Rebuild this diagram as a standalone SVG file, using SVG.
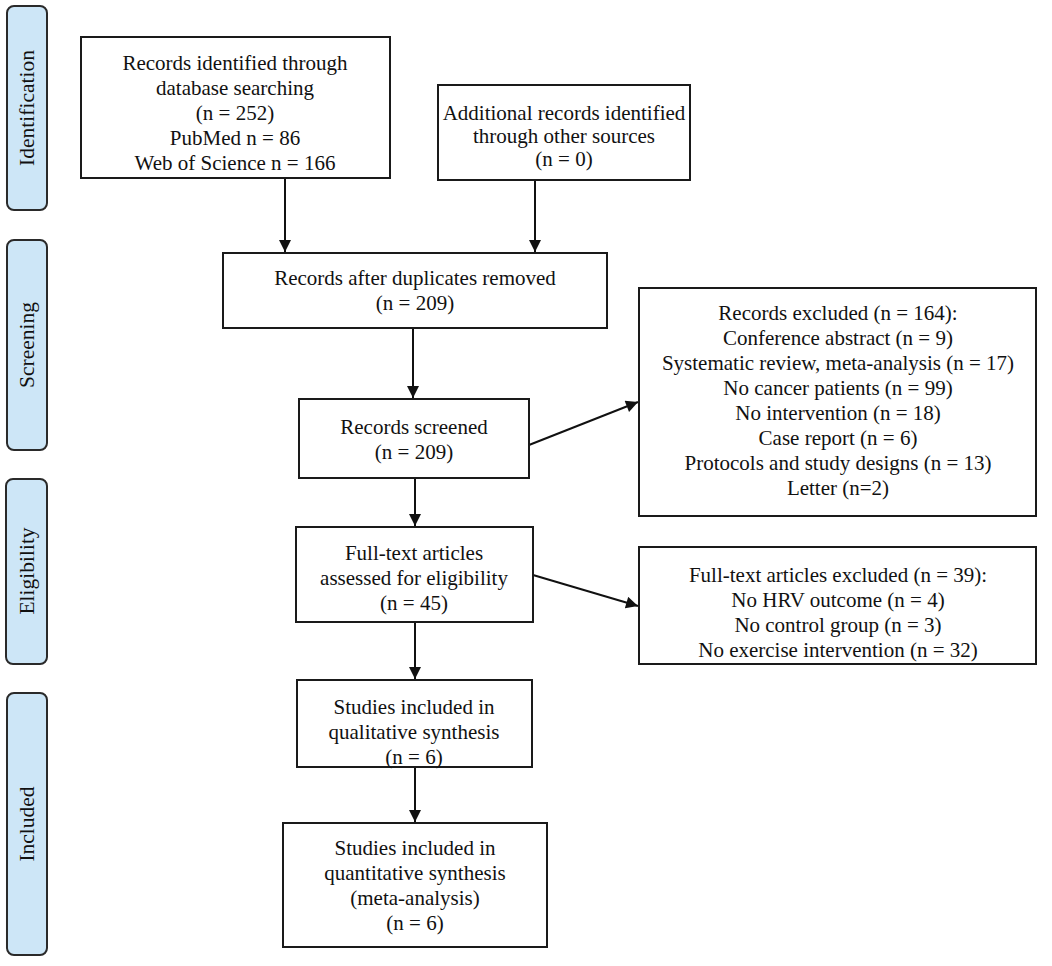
<svg xmlns="http://www.w3.org/2000/svg" width="1052" height="966" viewBox="0 0 1052 966">
<style>
.bg{fill:#ffffff}
.phase{fill:#cde6f7;stroke:#2a2a2a;stroke-width:2}
.box{fill:#ffffff;stroke:#1a1a1a;stroke-width:2}
.t{font-family:"Liberation Serif","Times New Roman",serif;font-size:21px;fill:#111;text-anchor:middle}
.pt{font-family:"Liberation Serif","Times New Roman",serif;font-size:21.5px;fill:#111;text-anchor:middle}
.c{stroke:#111;stroke-width:2;fill:none;marker-end:url(#ah)}
</style>
<defs>
<marker id="ah" viewBox="0 0 10 10" refX="10" refY="5" markerWidth="13" markerHeight="12" markerUnits="userSpaceOnUse" orient="auto">
<path d="M0,0 L10,5 L0,10 z" fill="#111"/>
</marker>
</defs>
<rect class="bg" x="0" y="0" width="1052" height="966"/>

<g id="phase-identification">
<rect class="phase" x="7" y="6" width="40" height="204" rx="7"/>
<text class="pt" transform="translate(34,108) rotate(-90)">Identification</text>
</g>
<g id="phase-screening">
<rect class="phase" x="7" y="240" width="40" height="210" rx="7"/>
<text class="pt" transform="translate(34,345) rotate(-90)">Screening</text>
</g>
<g id="phase-eligibility">
<rect class="phase" x="6" y="479" width="41" height="185" rx="7"/>
<text class="pt" transform="translate(34,571) rotate(-90)">Eligibility</text>
</g>
<g id="phase-included">
<rect class="phase" x="7" y="693" width="40" height="262" rx="7"/>
<text class="pt" transform="translate(34,824) rotate(-90)">Included</text>
</g>

<g id="connectors">
<line class="c" x1="285" y1="178" x2="285" y2="252"/>
<line class="c" x1="535" y1="180" x2="535" y2="252"/>
<line class="c" x1="413" y1="328" x2="413" y2="398"/>
<line class="c" x1="415" y1="478" x2="415" y2="526"/>
<line class="c" x1="529" y1="445" x2="638" y2="402"/>
<line class="c" x1="533" y1="575" x2="638" y2="606"/>
<line class="c" x1="415" y1="622" x2="415" y2="679"/>
<line class="c" x1="415" y1="767" x2="415" y2="822"/>
</g>

<g id="n-db">
<rect class="box" x="81" y="37" width="309" height="141"/>
<text class="t" x="235" y="70">Records identified through</text>
<text class="t" x="235" y="95">database searching</text>
<text class="t" x="235" y="120">(n = 252)</text>
<text class="t" x="235" y="145">PubMed n = 86</text>
<text class="t" x="235" y="170">Web of Science  n = 166</text>
</g>

<g id="n-other">
<rect class="box" x="438" y="85" width="252" height="95"/>
<text class="t" x="564" y="120">Additional records identified</text>
<text class="t" x="564" y="143">through other sources</text>
<text class="t" x="564" y="166">(n = 0)</text>
</g>

<g id="n-dup">
<rect class="box" x="223" y="253" width="384" height="75"/>
<text class="t" x="415" y="285">Records after duplicates removed</text>
<text class="t" x="415" y="310">(n = 209)</text>
</g>

<g id="n-screened">
<rect class="box" x="299" y="399" width="230" height="79"/>
<text class="t" x="414" y="434">Records screened</text>
<text class="t" x="414" y="459">(n = 209)</text>
</g>

<g id="n-excl1">
<rect class="box" x="639" y="288" width="397" height="228"/>
<text class="t" x="838" y="320">Records excluded  (n  = 164):</text>
<text class="t" x="838" y="345">Conference abstract (n = 9)</text>
<text class="t" x="838" y="370">Systematic review, meta-analysis (n = 17)</text>
<text class="t" x="838" y="395">No cancer patients (n = 99)</text>
<text class="t" x="838" y="420">No intervention (n = 18)</text>
<text class="t" x="838" y="445">Case report (n = 6)</text>
<text class="t" x="838" y="470">Protocols and study designs (n = 13)</text>
<text class="t" x="838" y="495">Letter (n=2)</text>
</g>

<g id="n-fulltext">
<rect class="box" x="296" y="527" width="237" height="95"/>
<text class="t" x="414" y="560">Full-text articles</text>
<text class="t" x="414" y="585">assessed for eligibility</text>
<text class="t" x="414" y="610">(n = 45)</text>
</g>

<g id="n-excl2">
<rect class="box" x="639" y="547" width="397" height="117"/>
<text class="t" x="838" y="582">Full-text articles excluded  (n = 39):</text>
<text class="t" x="838" y="607">No HRV outcome (n = 4)</text>
<text class="t" x="838" y="632">No control group (n = 3)</text>
<text class="t" x="838" y="657">No exercise  intervention (n = 32)</text>
</g>

<g id="n-qual">
<rect class="box" x="297" y="680" width="235" height="87"/>
<text class="t" x="414" y="714">Studies included  in</text>
<text class="t" x="414" y="739">qualitative synthesis</text>
<text class="t" x="414" y="764">(n = 6)</text>
</g>

<g id="n-quant">
<rect class="box" x="283" y="823" width="264" height="124"/>
<text class="t" x="415" y="855">Studies included  in</text>
<text class="t" x="415" y="880">quantitative synthesis</text>
<text class="t" x="415" y="905">(meta-analysis)</text>
<text class="t" x="415" y="930">(n = 6)</text>
</g>
</svg>
